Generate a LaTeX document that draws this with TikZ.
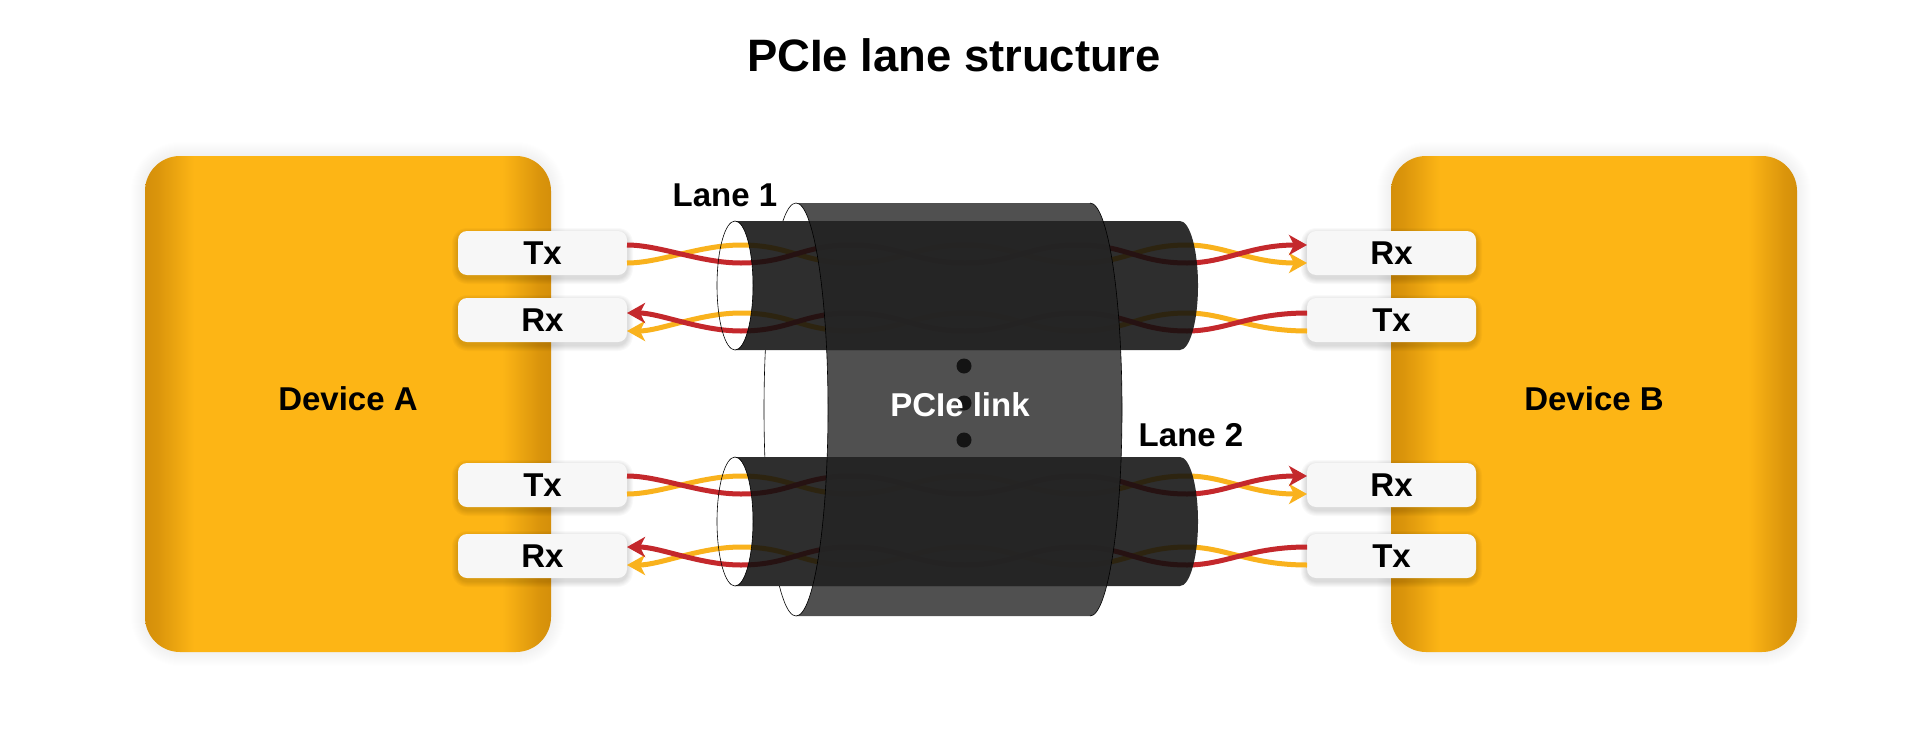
\documentclass[tikz,border=0pt]{standalone}
\usepackage{fontspec}
\setmainfont{Liberation Sans}
\usetikzlibrary{arrows.meta}
\definecolor{devedge}{HTML}{D48F0A}
\definecolor{devmid}{HTML}{FDB515}
\definecolor{wirered}{HTML}{C4282C}
\definecolor{wireyel}{HTML}{F9B21D}
\pgfdeclarehorizontalshading{devshade}{100bp}{color(0bp)=(devedge); color(25bp)=(devedge); color(26.5bp)=(devedge!85!devmid); color(31bp)=(devmid); color(69bp)=(devmid); color(73.5bp)=(devedge!85!devmid); color(75bp)=(devedge); color(100bp)=(devedge)}
\tikzset{
  device/.style={rounded corners=35pt,minimum width=406pt,minimum height=496pt,inner sep=0pt,outer sep=0pt,shading=devshade,font=\fontsize{33}{36}\selectfont\bfseries,text=black},
  portbox/.style={rounded corners=9pt,minimum width=169pt,minimum height=44pt,inner sep=0pt,outer sep=0pt,fill=black!3,font=\fontsize{33}{36}\selectfont\bfseries,text=black},
  lanelabel/.style={font=\fontsize{33}{36}\selectfont\bfseries,text=black,inner sep=0pt},
  wire/.style={line width=5pt,line cap=butt},
  rtip/.style={-{Stealth[length=18pt,width=20pt,inset=5pt]}},
  ltip/.style={{Stealth[length=18pt,width=20pt,inset=5pt]}-},
  laneskin/.style={fill=black!94,fill opacity=.87,draw=none},
  linkskin/.style={fill=black!87,fill opacity=.79,draw=none},
  rimline/.style={draw=black,line width=.6pt},
}
% colour, from node, to node, tip style, level at the ends, opposite level
\newcommand{\twistwire}[6]{%
  \draw[wire,#1,#4] (#2.east |- 0,#5)
    .. controls (660,#5) and (700,#6) .. (741,#6)
    .. controls (790,#6) and (802,#5) .. (851,#5)
    .. controls (900,#5) and (916,#6) .. (965,#6)
    .. controls (1014,#6) and (1029,#5) .. (1078,#5)
    .. controls (1127,#5) and (1138,#6) .. (1187,#6)
    .. controls (1225,#6) and (1250,#5) .. (#3.west |- 0,#5);}
\newcommand{\softshadow}[7]{% x1 y1 x2 y2 radius maxspread opacity
  \foreach \s in {1,...,#6}{
    \fill[black,opacity=#7,rounded corners=#5pt+\s pt] (#1-\s,#2-\s) rectangle (#3+\s,#4+\s);}}
\newcommand{\laneshape}[2]{% top, centre-height
  \path[laneskin] (735,#1) arc[start angle=90,end angle=-90,x radius=18pt,y radius=64.5pt]
    -- (1180,#1+129) arc[start angle=-90,end angle=90,x radius=18pt,y radius=64.5pt] -- cycle;
  \draw[rimline] (735,#2) ellipse[x radius=18pt,y radius=64.5pt];}
\newcommand{\linkbody}{(796,203) arc[start angle=90,end angle=-90,x radius=32pt,y radius=206.5pt]
  -- (1090,616) arc[start angle=-90,end angle=90,x radius=32pt,y radius=206.5pt] -- cycle}
\begin{document}
\begin{tikzpicture}[x=1pt,y=-1pt]
\useasboundingbox[fill=white] (0,0) rectangle (1921,728);
\softshadow{145}{156}{551}{652}{35}{14}{0.005}
\softshadow{1391}{156}{1797}{652}{35}{14}{0.005}
\node[device] (devA) at (348,404) {};
\node[device] (devB) at (1594,404) {};
\node[lanelabel] (devAt) at (348,399) {Device A};
\node[lanelabel] (devBt) at (1594,399) {Device B};
\node[font=\fontsize{45.4}{50}\selectfont\bfseries,inner sep=0pt] (title) at (954,55) {PCIe lane structure};
% port shadows
\softshadow{458}{234}{627}{278}{9}{6}{0.025}
\softshadow{458}{301}{627}{345}{9}{6}{0.025}
\softshadow{458}{466}{627}{510}{9}{6}{0.025}
\softshadow{458}{537}{627}{581}{9}{6}{0.025}
\softshadow{1307}{234}{1476}{278}{9}{6}{0.025}
\softshadow{1307}{301}{1476}{345}{9}{6}{0.025}
\softshadow{1307}{466}{1476}{510}{9}{6}{0.025}
\softshadow{1307}{537}{1476}{581}{9}{6}{0.025}
% ports
\node[portbox] (a1) at (542.5,253) {Tx};
\node[portbox] (a2) at (542.5,320) {Rx};
\node[portbox] (a3) at (542.5,485) {Tx};
\node[portbox] (a4) at (542.5,556) {Rx};
\node[portbox] (b1) at (1391.5,253) {Rx};
\node[portbox] (b2) at (1391.5,320) {Tx};
\node[portbox] (b3) at (1391.5,485) {Rx};
\node[portbox] (b4) at (1391.5,556) {Tx};
% wires
\twistwire{wireyel}{a1}{b1}{rtip}{263}{245}
\twistwire{wirered}{a1}{b1}{rtip}{245}{263}
\twistwire{wireyel}{a2}{b2}{ltip}{331}{313}
\twistwire{wirered}{a2}{b2}{ltip}{313}{331}
\twistwire{wireyel}{a3}{b3}{rtip}{494}{476}
\twistwire{wirered}{a3}{b3}{rtip}{476}{494}
\twistwire{wireyel}{a4}{b4}{ltip}{565}{547}
\twistwire{wirered}{a4}{b4}{ltip}{547}{565}
% outer tube, visible parts of the far half of its mouth
\begin{scope}
  \clip (700,190) rectangle (850,221) (700,350) rectangle (850,457) (700,586) rectangle (850,630);
  \draw[rimline] (796,203) arc[start angle=90,end angle=270,x radius=32pt,y radius=206.5pt];
\end{scope}
% lanes
\laneshape{221}{285.5}
\laneshape{457}{521.5}
% outer tube
\path[linkskin] \linkbody;
% overlap of tube and lanes: nearly hides the wires
\begin{scope}
  \clip (700,221) rectangle (1150,350) (700,457) rectangle (1150,586);
  \fill[black!85,opacity=.7] \linkbody;
\end{scope}
\draw[rimline] (796,203) arc[start angle=90,end angle=-90,x radius=32pt,y radius=206.5pt];
\draw[rimline] (1090,616) arc[start angle=-90,end angle=90,x radius=32pt,y radius=206.5pt];
% dots and labels
\fill[black!92] (964,366) circle[radius=7.5pt];
\fill[black!92] (964,403) circle[radius=7.5pt];
\fill[black!92] (964,440) circle[radius=7.5pt];
\node[font=\fontsize{33}{36}\selectfont\bfseries,text=white,inner sep=0pt] (link) at (960,405) {PCIe link};
\node[lanelabel] (lane1) at (725,195) {Lane 1};
\node[lanelabel] (lane2) at (1191,435) {Lane 2};
\end{tikzpicture}
\end{document}
